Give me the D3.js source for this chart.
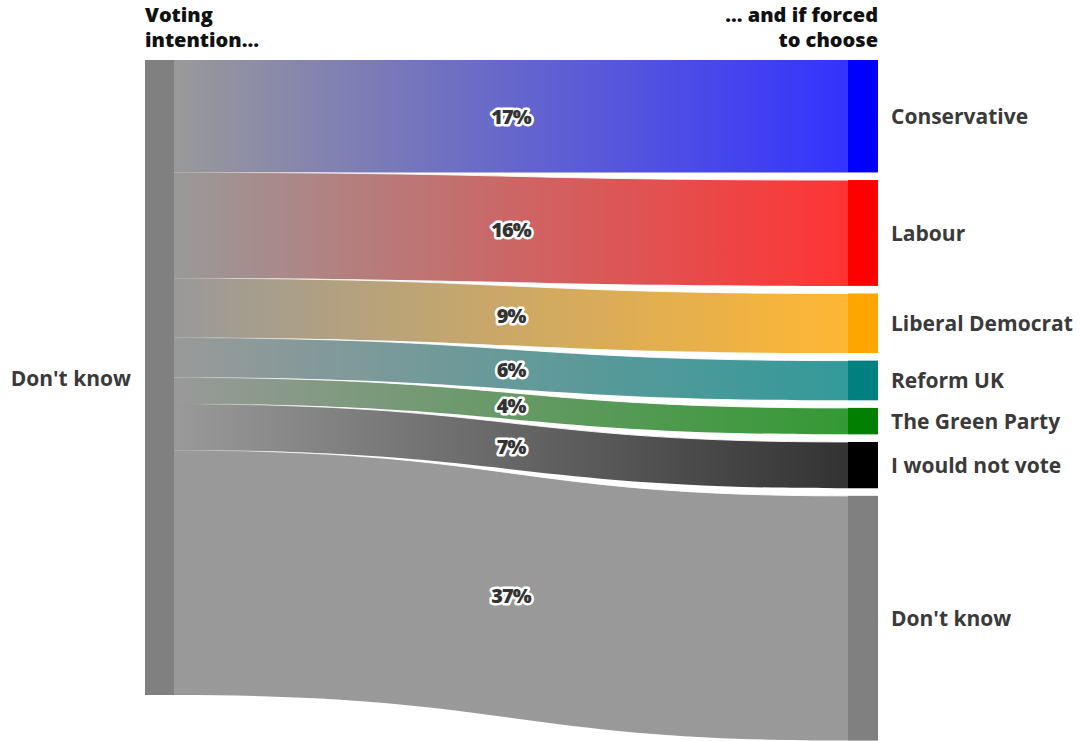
<!DOCTYPE html>
<html>
<head>
<meta charset="utf-8">
<script src="https://cdn.jsdelivr.net/npm/d3@7"></script>
<style>
  html, body { margin: 0; padding: 0; background: #fff; }
  svg { display: block; }
  .hdr { font-family: "Open Sans", "Lato", sans-serif; font-weight: 800; font-size: 20px; fill: #111; }
  .lbl { font-family: "Open Sans", "Lato", sans-serif; font-weight: 700; font-size: 21px; fill: #3a3a3a; }
  .pct { font-family: "Open Sans", "Lato", sans-serif; font-weight: 800; font-size: 20px; fill: #333;
         stroke: #fff; stroke-width: 5px; stroke-linejoin: round; paint-order: stroke; letter-spacing: -1px; }
</style>
</head>
<body>
<script>
// Where "Don't know" voters go when pushed to pick
const sourceName = "Don't know";
const sourceColor = "#808080";
const targetNames = ["Conservative", "Labour", "Liberal Democrat", "Reform UK", "The Green Party", "I would not vote", "Don't know"];
const shares = [17, 16, 9, 6, 4, 7, 37];
const targetColors = ["#0000ff", "#ff0000", "#ffa500", "#008080", "#008000", "#000000", "#808080"];
const headerLeft = ["Voting", "intention..."];
const headerRight = ["... and if forced", "to choose"];

const W = 1083, H = 741;
const total = d3.sum(shares);

// Layout
const plotTop = 60, leftBottom = 695;
const nodeW = 29;
const x = d3.scaleLinear().domain([0, 1]).range([145, 878]);   // 0 = left column, 1 = right column edge
const x0 = x(0), x0r = x0 + nodeW, x1r = x(1), x1 = x1r - 30;
const y = d3.scaleLinear().domain([0, total]).range([plotTop, leftBottom]);
const gap = 7.6;

const cum = d3.cumsum(shares);
const links = shares.map((v, i) => {
  const start = i === 0 ? 0 : cum[i - 1];
  const ly0 = y(start), ly1 = y(start + v);
  const ry0 = y(start) + i * gap, ry1 = y(start + v) + i * gap;
  return { i, v, name: targetNames[i], color: targetColors[i], ly0, ly1, ry0, ry1 };
});

const svg = d3.select("body").append("svg").attr("width", W).attr("height", H);
const defs = svg.append("defs");

links.forEach(d => {
  const g = defs.append("linearGradient")
    .attr("id", "grad" + d.i)
    .attr("gradientUnits", "userSpaceOnUse")
    .attr("x1", x0r).attr("x2", x1).attr("y1", 0).attr("y2", 0);
  g.append("stop").attr("offset", 0).attr("stop-color", sourceColor);
  g.append("stop").attr("offset", 1).attr("stop-color", d.color);
});

// Seam fades in from the source side
const seamGrad = defs.append("linearGradient")
  .attr("id", "seam")
  .attr("gradientUnits", "userSpaceOnUse")
  .attr("x1", x0r).attr("x2", x1).attr("y1", 0).attr("y2", 0);
seamGrad.append("stop").attr("offset", 0.02).attr("stop-color", "#fff").attr("stop-opacity", 0);
seamGrad.append("stop").attr("offset", 0.2).attr("stop-color", "#fff").attr("stop-opacity", 0.8);
seamGrad.append("stop").attr("offset", 1).attr("stop-color", "#fff").attr("stop-opacity", 0.9);

const xm = (x0r + x1) / 2;
function curve(p, ya, yb, reverse) {
  if (!reverse) p.bezierCurveTo(xm, ya, xm, yb, x1, yb);
  else p.bezierCurveTo(xm, yb, xm, ya, x0r, ya);
}
function ribbon(d) {
  const p = d3.path();
  p.moveTo(x0r, d.ly0);
  curve(p, d.ly0, d.ry0, false);
  p.lineTo(x1, d.ry1);
  curve(p, d.ly1, d.ry1, true);
  p.closePath();
  return p.toString();
}
function edge(ya, yb) {
  const p = d3.path();
  p.moveTo(x0r, ya);
  curve(p, ya, yb, false);
  return p.toString();
}

// Flows
svg.append("g").selectAll("path").data(links).join("path")
  .attr("d", ribbon)
  .attr("fill", d => `url(#grad${d.i})`)
  .attr("fill-opacity", 0.8);

// Thin white seams along the flow edges
svg.append("g").selectAll("path").data(links.slice(1)).join("path")
  .attr("d", d => edge(d.ly0, d.ry0))
  .attr("fill", "none")
  .attr("stroke", "url(#seam)")
  .attr("stroke-width", 1);

// Left node
svg.append("rect")
  .attr("x", x0).attr("y", y(0))
  .attr("width", nodeW).attr("height", y(total) - y(0))
  .attr("fill", sourceColor);

// Right nodes
svg.append("g").selectAll("rect").data(links).join("rect")
  .attr("x", x1).attr("y", d => d.ry0)
  .attr("width", x1r - x1).attr("height", d => d.ry1 - d.ry0)
  .attr("fill", d => d.color);

// Percent labels at the middle of each flow
svg.append("g").selectAll("text").data(links).join("text")
  .attr("class", "pct")
  .attr("x", xm)
  .attr("y", d => (d.ly0 + d.ly1 + d.ry0 + d.ry1) / 4)
  .attr("text-anchor", "middle")
  .attr("dominant-baseline", "central")
  .text(d => d.v + "%");

// Right labels
svg.append("g").selectAll("text").data(links).join("text")
  .attr("class", "lbl")
  .attr("x", x1r + 13)
  .attr("y", d => (d.ry0 + d.ry1) / 2)
  .attr("dominant-baseline", "central")
  .text(d => d.name);

// Left label
svg.append("text")
  .attr("class", "lbl")
  .attr("x", x0 - 14)
  .attr("y", (y(0) + y(total)) / 2)
  .attr("text-anchor", "end")
  .attr("dominant-baseline", "central")
  .text(sourceName);

// Column headers
svg.append("text").attr("class", "hdr").attr("x", x0).attr("y", 22)
  .selectAll("tspan").data(headerLeft).join("tspan")
  .attr("x", x0).attr("dy", (d, i) => i ? 25 : 0).text(d => d);
svg.append("text").attr("class", "hdr").attr("x", x1r).attr("y", 22).attr("text-anchor", "end")
  .selectAll("tspan").data(headerRight).join("tspan")
  .attr("x", x1r).attr("dy", (d, i) => i ? 25 : 0).text(d => d);
</script>
</body>
</html>
